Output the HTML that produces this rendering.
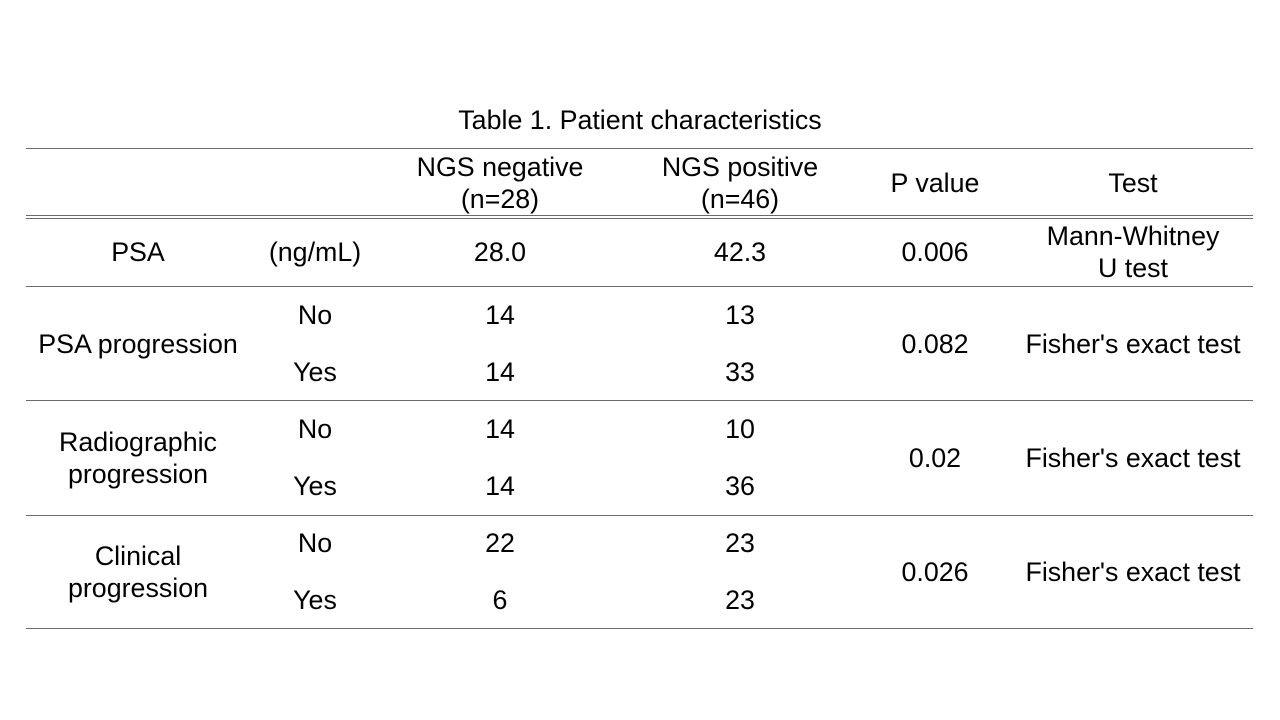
<!DOCTYPE html>
<html><head><style>
body{margin:0;width:1280px;height:720px;background:#fff;position:relative;font-family:"Liberation Sans",Arial,sans-serif;color:#000;overflow:hidden}
.t{position:absolute;font-size:26.8px;line-height:32px;text-align:center;white-space:nowrap;transform:translate(-50%,-50%);margin-top:1px}
.l{position:absolute;left:26px;width:1227px;height:1px;background:#6b6b6b}
</style></head><body>
<div class="t" style="left:640px;top:119px">Table 1. Patient characteristics</div>
<div class="l" style="top:148px"></div>
<div class="l" style="top:215px"></div>
<div class="l" style="top:218px"></div>
<div class="l" style="top:286px"></div>
<div class="l" style="top:400px"></div>
<div class="l" style="top:515px"></div>
<div class="l" style="top:628px"></div>

<div class="t" style="left:500px;top:182px">NGS negative<br>(n=28)</div>
<div class="t" style="left:740px;top:182px">NGS positive<br>(n=46)</div>
<div class="t" style="left:935px;top:182px">P value</div>
<div class="t" style="left:1133px;top:182px">Test</div>

<div class="t" style="left:138px;top:251px">PSA</div>
<div class="t" style="left:315px;top:251px">(ng/mL)</div>
<div class="t" style="left:500px;top:251px">28.0</div>
<div class="t" style="left:740px;top:251px">42.3</div>
<div class="t" style="left:935px;top:251px">0.006</div>
<div class="t" style="left:1133px;top:251px">Mann-Whitney<br>U test</div>

<div class="t" style="left:138px;top:343px">PSA progression</div>
<div class="t" style="left:315px;top:314px">No</div>
<div class="t" style="left:315px;top:371px">Yes</div>
<div class="t" style="left:500px;top:314px">14</div>
<div class="t" style="left:500px;top:371px">14</div>
<div class="t" style="left:740px;top:314px">13</div>
<div class="t" style="left:740px;top:371px">33</div>
<div class="t" style="left:935px;top:343px">0.082</div>
<div class="t" style="left:1133px;top:343px">Fisher's exact test</div>

<div class="t" style="left:138px;top:457px">Radiographic<br>progression</div>
<div class="t" style="left:315px;top:428px">No</div>
<div class="t" style="left:315px;top:485px">Yes</div>
<div class="t" style="left:500px;top:428px">14</div>
<div class="t" style="left:500px;top:485px">14</div>
<div class="t" style="left:740px;top:428px">10</div>
<div class="t" style="left:740px;top:485px">36</div>
<div class="t" style="left:935px;top:457px">0.02</div>
<div class="t" style="left:1133px;top:457px">Fisher's exact test</div>

<div class="t" style="left:138px;top:571px">Clinical<br>progression</div>
<div class="t" style="left:315px;top:542px">No</div>
<div class="t" style="left:315px;top:599px">Yes</div>
<div class="t" style="left:500px;top:542px">22</div>
<div class="t" style="left:500px;top:599px">6</div>
<div class="t" style="left:740px;top:542px">23</div>
<div class="t" style="left:740px;top:599px">23</div>
<div class="t" style="left:935px;top:571px">0.026</div>
<div class="t" style="left:1133px;top:571px">Fisher's exact test</div>
</body></html>
